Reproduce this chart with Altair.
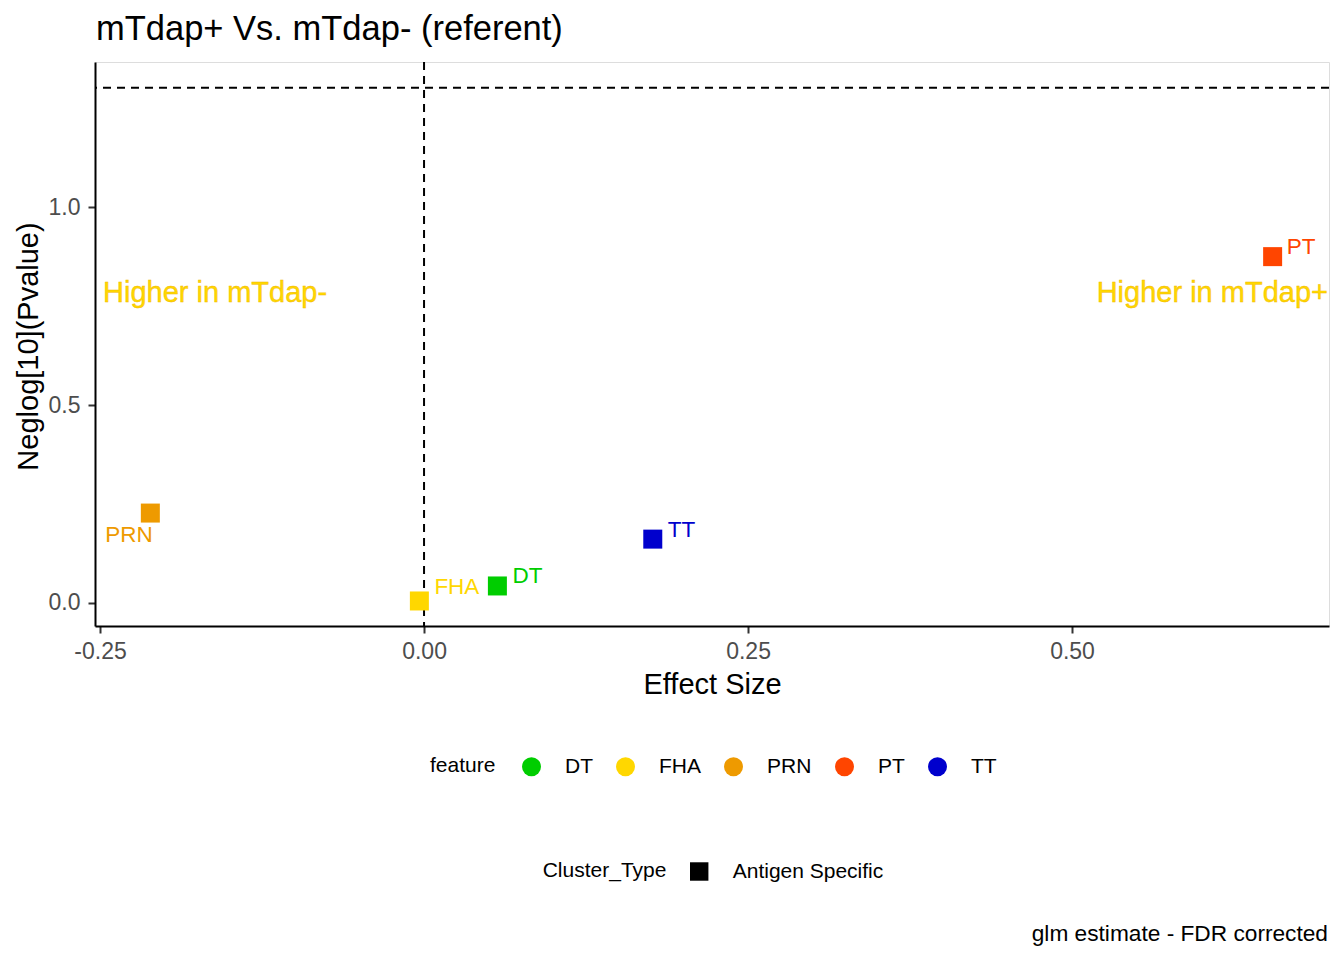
import altair as alt
import pandas as pd

# ---- data ----
features = ["DT", "FHA", "PRN", "PT", "TT"]
effect_size = [0.0566, -0.0036, -0.2112, 0.6548, 0.1765]
neglog10_p = [0.0430, 0.0051, 0.2271, 0.8747, 0.1613]
cluster_type = ["Antigen Specific"] * 5
feature_colors = ["#00CD00", "#FFD700", "#EE9A00", "#FF4500", "#0000CD"]

x_ticks = [-0.25, 0.0, 0.25, 0.50]
y_ticks = [0.0, 0.5, 1.0]
x_domain = [-0.2539, 0.6983]
y_domain = [-0.0581, 1.3662]

p_threshold_line = [1.301]   # -log10(0.05)
effect_zero_line = [0.0]

annot_text = ["Higher in mTdap-", "Higher in mTdap+"]
annot_x = [-0.2477, 0.6975]
annot_y = [0.782, 0.782]

title_text = "mTdap+ Vs. mTdap- (referent)"
caption_text = "glm estimate - FDR corrected"
x_title = "Effect Size"
y_title = "Neglog[10](Pvalue)"

# label nudges (pixels), like ggrepel placement
label_nudge = {"DT": (15, -3), "FHA": (15, -7), "PRN": (-45, 29), "PT": (14, -3), "TT": (15, -2)}

# ---- chart ----
W, H = 1234, 564
FONT = "Liberation Sans"

df = pd.DataFrame({"feature": features, "effect": effect_size,
                   "neglog": neglog10_p, "Cluster_Type": cluster_type})
color_of = dict(zip(features, feature_colors))

x_scale = alt.Scale(domain=x_domain, nice=False, zero=False)
y_scale = alt.Scale(domain=y_domain, nice=False, zero=False)

x_axis = alt.Axis(values=x_ticks,
                  labelExpr="datum.value < 0 ? '-' + format(-datum.value, '.2f') : format(datum.value, '.2f')",
                  title=x_title, titleFont=FONT, titleFontSize=29, titleFontWeight="normal",
                  titleColor="black", titleBaseline="alphabetic", titleY=67,
                  labelFont=FONT, labelFontSize=23, labelColor="#4D4D4D", labelPadding=7,
                  tickSize=7, tickWidth=2, tickColor="#333333",
                  domainColor="black", domainWidth=2, grid=False)
y_axis = alt.Axis(values=y_ticks, format=".1f",
                  title=y_title, titleFont=FONT, titleFontSize=29, titleFontWeight="normal",
                  titleColor="black", titleBaseline="alphabetic", titleAngle=-90,
                  titleX=-57.5, titleY=H / 2 + 2, titleAlign="center",
                  labelFont=FONT, labelFontSize=23, labelColor="#4D4D4D", labelPadding=8,
                  tickSize=7, tickWidth=2, tickColor="#333333",
                  domainColor="black", domainWidth=2, grid=False)

X = alt.X("effect:Q", scale=x_scale, axis=x_axis)
Y = alt.Y("neglog:Q", scale=y_scale, axis=y_axis)

vline = alt.Chart(pd.DataFrame({"effect": effect_zero_line})).mark_rule(
    color="black", strokeWidth=2, strokeDash=[8, 6]).encode(x=X)
hline = alt.Chart(pd.DataFrame({"neglog": p_threshold_line})).mark_rule(
    color="black", strokeWidth=2, strokeDash=[8, 6]).encode(y=Y)

points = alt.Chart(df).mark_point(filled=True, size=361, opacity=1, strokeWidth=0).encode(
    x=X, y=Y,
    color=alt.Color("feature:N",
                    scale=alt.Scale(domain=features, range=feature_colors),
                    legend=alt.Legend(orient="none", legendX=335, legendY=694,
                                      direction="horizontal", titleOrient="left",
                                      titleAnchor="middle", titleBaseline="middle",
                                      symbolType="circle", symbolSize=361,
                                      symbolStrokeWidth=0, symbolOpacity=1,
                                      labelFont=FONT, titleFont=FONT,
                                      labelFontSize=21, titleFontSize=21,
                                      titleFontWeight="normal", labelColor="black",
                                      titleColor="black", labelOffset=23,
                                      columnPadding=22, titlePadding=25,
                                      labelBaseline="middle")),
    shape=alt.Shape("Cluster_Type:N",
                    scale=alt.Scale(domain=["Antigen Specific"], range=["square"]),
                    legend=alt.Legend(orient="none", legendX=447.7, legendY=799,
                                      direction="horizontal", titleOrient="left",
                                      titleAnchor="middle", titleBaseline="middle",
                                      symbolSize=340, symbolFillColor="black",
                                      symbolStrokeWidth=0, symbolOpacity=1,
                                      labelFont=FONT, titleFont=FONT,
                                      labelFontSize=21, titleFontSize=21,
                                      titleFontWeight="normal", labelColor="black",
                                      titleColor="black", labelOffset=23,
                                      titlePadding=22, labelBaseline="middle")),
)

label_layers = []
for f in features:
    dx, dy = label_nudge[f]
    label_layers.append(
        alt.Chart(df).transform_filter(alt.datum.feature == f).mark_text(
            align="left", baseline="alphabetic", dx=dx, dy=dy,
            font=FONT, fontSize=22.5, color=color_of[f]
        ).encode(x=X, y=Y, text="feature:N")
    )

ann_df = pd.DataFrame({"effect": annot_x, "neglog": annot_y, "txt": annot_text})
ann_left = alt.Chart(ann_df).transform_filter(alt.datum.effect < 0).mark_text(
    align="left", baseline="middle", font=FONT, fontSize=29, color="#FFD700",
    stroke="#F2B800", strokeWidth=0.4).encode(x=X, y=Y, text="txt:N")
ann_right = alt.Chart(ann_df).transform_filter(alt.datum.effect > 0).mark_text(
    align="right", baseline="middle", font=FONT, fontSize=29, color="#FFD700",
    stroke="#F2B800", strokeWidth=0.4).encode(x=X, y=Y, text="txt:N")

caption = alt.Chart(pd.DataFrame({"cap": [caption_text]})).mark_text(
    align="right", baseline="alphabetic", font=FONT, fontSize=22.7, color="black"
).encode(text="cap:N", x=alt.value(W - 1), y=alt.value(879))

chart = alt.layer(vline, hline, points, *label_layers, ann_left, ann_right, caption).properties(
    width=W, height=H,
    title=alt.TitleParams(text=title_text, anchor="start", font=FONT, fontSize=34.5,
                          fontWeight="normal", color="black", offset=14,
                          dx=1, frame="group"),
    padding={"left": 87, "top": 54, "right": 7, "bottom": 324},
    autosize=alt.AutoSizeParams(type="none"),
).configure_view(stroke=None).configure(background="white")

chart.save("out.html", embed_options={"renderer": "svg", "actions": False})
